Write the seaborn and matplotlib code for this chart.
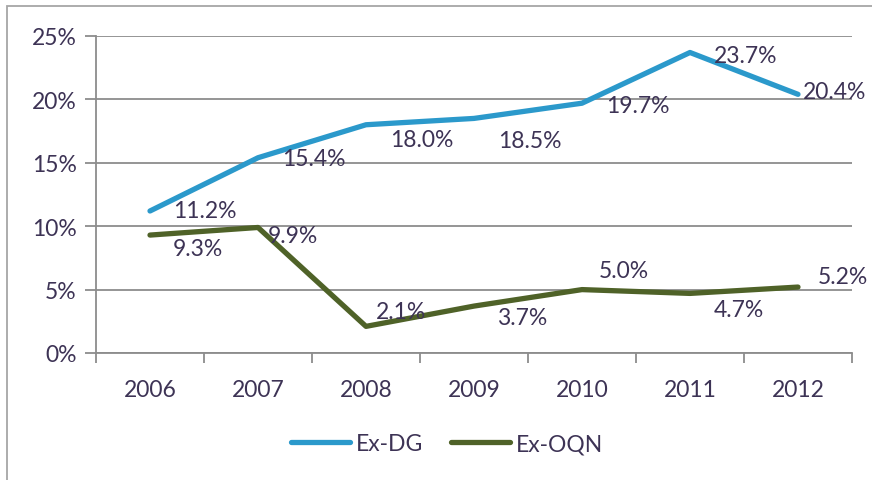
import matplotlib
matplotlib.use("Agg")
import matplotlib.pyplot as plt
import seaborn as sns
import pandas as pd
import numpy as np
from matplotlib.patches import Rectangle
from matplotlib.lines import Line2D

years = ["2006", "2007", "2008", "2009", "2010", "2011", "2012"]
ex_dg = [11.2, 15.4, 18.0, 18.5, 19.7, 23.7, 20.4]
ex_oqn = [9.3, 9.9, 2.1, 3.7, 5.0, 4.7, 5.2]
series_names = ["Ex-DG", "Ex-OQN"]
yticks = [0, 5, 10, 15, 20, 25]

# label offsets in pixels (dx, dy) relative to each point
dg_offsets = [(55, 0), (56, -1), (56, -15), (56, -22), (56, -2), (56, -3), (37, 3)]
oqn_offsets = [(48, -13), (35, -8), (35, 15), (48, -11), (42, 19), (49, -16), (45, 11)]

sns.set_theme(style="white")
plt.rcParams['font.family'] = ['Lato', 'DejaVu Sans']

txt_color = "#3D3355"
grid_color = "#8C8C8C"
colors = {"Ex-DG": "#2B99CB", "Ex-OQN": "#4F6228"}

df = pd.DataFrame({
    "x": list(range(len(years))) * 2,
    "value": ex_dg + ex_oqn,
    "series": [series_names[0]] * len(years) + [series_names[1]] * len(years),
})

fig = plt.figure(figsize=(8.72, 4.81), dpi=100)
ax = fig.add_axes([96/872, 1-354/481, (852-96)/872, (354-37)/481])

sns.lineplot(data=df, x="x", y="value", hue="series", palette=colors,
             linewidth=3.8, ax=ax, legend=False, solid_capstyle="round")

ax.set_xlim(-0.5, len(years) - 0.5)
ax.set_ylim(0, 25)
ax.set_yticks(yticks)
ax.set_yticklabels([f"{t}%" for t in yticks])
ax.set_xticks(range(len(years)))
ax.set_xticklabels(years)
ax.set_xticks(np.arange(-0.5, len(years), 1.0), minor=True)
ax.tick_params(axis="x", which="major", length=0, pad=19, labelsize=16.5, labelcolor=txt_color)
ax.tick_params(axis="x", which="minor", length=7, width=1.3, color=grid_color, bottom=True)
ax.tick_params(axis="y", length=8, width=1.3, color=grid_color, left=True, pad=6,
               labelsize=16.5, labelcolor=txt_color)
ax.set_xlabel("")
ax.set_ylabel("")

ax.yaxis.grid(True, color=grid_color, linewidth=1.3)
ax.set_axisbelow(True)
for s in ["top", "right"]:
    ax.spines[s].set_visible(False)
for s in ["left", "bottom"]:
    ax.spines[s].set_color(grid_color)
    ax.spines[s].set_linewidth(1.3)

for vals, offs in [(ex_dg, dg_offsets), (ex_oqn, oqn_offsets)]:
    for i, (v, (dx, dy)) in enumerate(zip(vals, offs)):
        ax.annotate(f"{v:.1f}%", (i, v), xytext=(dx, dy), textcoords="offset pixels",
                    ha="center", va="center", fontsize=16.5, color=txt_color)

# legend
handles = [Line2D([0], [0], color=colors[n], linewidth=3.8, solid_capstyle="round") for n in series_names]
leg = fig.legend(handles, series_names, loc="center", bbox_to_anchor=(447/872, 1-445/481),
                 ncol=2, frameon=False, fontsize=16.5, handlelength=2.6, handletextpad=0.25,
                 columnspacing=1.2)
for t in leg.get_texts():
    t.set_color(txt_color)

# outer border
fig.patches.append(Rectangle((7/872, -0.1), 1.2, 1 - 7/481 + 0.1, transform=fig.transFigure,
                             fill=False, edgecolor="#A6A6A6", linewidth=1.3))

fig.savefig("out.png", dpi=100)
